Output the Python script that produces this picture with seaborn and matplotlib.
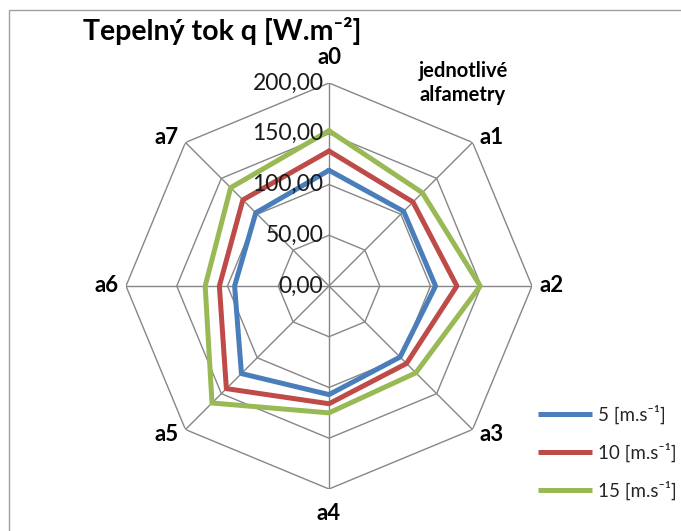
import numpy as np
import pandas as pd
import matplotlib
matplotlib.use("Agg")
import matplotlib.pyplot as plt
from matplotlib.patches import Rectangle
import seaborn as sns

# Heat flux per alfameter position for three wind speeds
categories = ["a0", "a1", "a2", "a3", "a4", "a5", "a6", "a7"]
series_names = ["5 [m.s⁻¹]", "10 [m.s⁻¹]", "15 [m.s⁻¹]"]
q_5 = [114, 104, 105, 99, 107, 122, 93, 102]
q_10 = [133, 117, 126, 108, 116, 143, 108, 120]
q_15 = [153, 130, 149, 121, 125, 163, 122, 137]
r_ticks = [0, 50, 100, 150, 200]
colors = ["#4A7EBB", "#BE4B48", "#98B954"]

sns.set_theme(style="white")
plt.rcParams["font.family"] = ["Lato", "DejaVu Sans"]

W, H = 681, 531
fig = plt.figure(figsize=(W / 100, H / 100), dpi=100)
fig.patch.set_facecolor("white")

# outer chart frame
fig.add_artist(Rectangle((9 / W, -0.2), 1.5, 1.2 - 10 / H,
                         transform=fig.transFigure, fill=False,
                         edgecolor="#a0a0a0", linewidth=1.0))

cx, cy, rad = 329, 286, 203
ax = fig.add_axes([(cx - rad) / W, (H - cy - rad) / H, 2 * rad / W, 2 * rad / H],
                  projection="polar")
ax.set_theta_zero_location("N")
ax.set_theta_direction(-1)
ax.set_ylim(0, r_ticks[-1])
ax.grid(False)
ax.spines["polar"].set_visible(False)
ax.set_xticks([])
ax.set_yticks([])
ax.patch.set_alpha(0)

n = len(categories)
theta = np.linspace(0, 2 * np.pi, n, endpoint=False)
theta_closed = np.append(theta, 2 * np.pi)

# octagonal grid rings and spokes
grid_kw = dict(color="#868686", linewidth=1.0, zorder=1)
for r in r_ticks[1:]:
    ax.plot(theta_closed, [r] * (n + 1), **grid_kw)
for t in theta:
    ax.plot([t, t], [0, r_ticks[-1]], **grid_kw)

# long-form data with closed loops
rows = []
for name, vals in zip(series_names, [q_5, q_10, q_15]):
    vals_closed = list(vals) + [vals[0]]
    for t, v in zip(theta_closed, vals_closed):
        rows.append({"theta": t, "q": v, "series": name})
df = pd.DataFrame(rows)

sns.lineplot(data=df, x="theta", y="q", hue="series", sort=False,
             estimator=None, errorbar=None, palette=colors,
             linewidth=3.6, ax=ax, zorder=3)
for line in ax.lines[-3:]:
    line.set_solid_joinstyle("miter")
    line.set_solid_capstyle("butt")
ax.set_xlabel("")
ax.set_ylabel("")

# radial value labels left of the a0 spoke
for r in r_ticks:
    ax.annotate(f"{r:.2f}".replace(".", ","), xy=(0, r), xytext=(-4, 0),
                textcoords="offset points", ha="right", va="center",
                fontsize=16.5, color="#1a1a1a", annotation_clip=False)

# category labels just outside each outer vertex
px2pt = 0.72
for t, c in zip(theta, categories):
    s, co = np.sin(t), np.cos(t)
    if abs(s) < 1e-6:
        ha, ox, oy = "center", 0, 25 * np.sign(co)
    else:
        ha = "left" if s > 0 else "right"
        ox = 7 * np.sign(s)
        oy = 5 * np.sign(co) if abs(co) > 1e-6 else 0
    ax.annotate(c, xy=(t, r_ticks[-1]), xytext=(ox * px2pt, oy * px2pt),
                textcoords="offset points", ha=ha, va="center", fontsize=16,
                fontweight="bold", color="black", annotation_clip=False)

fig.text(83 / W, 1 - 40 / H, "Tepelný tok q [W.m⁻²]", ha="left",
         va="baseline", fontsize=20.5, fontweight="bold", color="black")
fig.text(463 / W, 1 - 83 / H, "jednotlivé\nalfametry", ha="center",
         va="center", fontsize=14.5, fontweight="bold", color="black",
         linespacing=1.2)

handles, labels = ax.get_legend_handles_labels()
ax.legend(handles, labels, loc="center left",
          bbox_to_anchor=(521 / W, 1 - 452 / H), bbox_transform=fig.transFigure,
          frameon=False, fontsize=13.5, handlelength=2.9, handletextpad=0.3,
          labelspacing=1.0)

fig.savefig("out.png", dpi=100, facecolor="white")
